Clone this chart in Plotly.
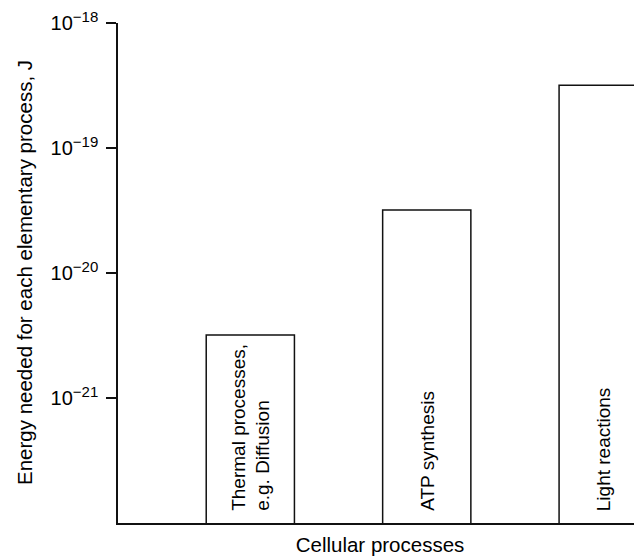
import plotly.graph_objects as go

categories = ["Thermal processes", "ATP synthesis", "Light reactions"]
bar_labels = ["Thermal processes,<br>e.g. Diffusion", "ATP synthesis", "Light reactions"]
energies_J = [3.2e-21, 3.2e-20, 3.2e-19]
tick_values = [1e-21, 1e-20, 1e-19, 1e-18]
tick_exponents = ["\u221221", "\u221220", "\u221219", "\u221218"]
y_title = "Energy needed for each elementary process, J"
x_title = "Cellular processes"

tick_labels = ["10<sup><span style='font-size:15px'>%s</span></sup>" % e for e in tick_exponents]

FONT = "Liberation Sans, Arial, sans-serif"
LINE = "#111111"

# page body has an 8px margin; figure sized to fill the remaining window
W, H = 634, 548
ML, MR, MT, MB = 110, 0, 12, 33
plot_w = W - ML - MR

fig = go.Figure()
fig.add_trace(go.Bar(
    x=categories,
    y=energies_J,
    width=0.5,
    marker=dict(color="white", line=dict(color=LINE, width=1.5)),
    showlegend=False,
    hoverinfo="x+y",
))

for cat, lab in zip(categories, bar_labels):
    fig.add_annotation(
        x=cat, y=-21.92, xref="x", yref="y",
        text=lab, textangle=-90, showarrow=False,
        xanchor="center", yanchor="bottom", align="left",
        font=dict(family=FONT, size=19, color="black"),
    )

# y-axis title as rotated annotation for precise placement
fig.add_annotation(
    x=(16 - ML) / plot_w, y=0.5, xref="paper", yref="paper",
    text=y_title, textangle=-90, showarrow=False,
    xanchor="center", yanchor="middle",
    font=dict(family=FONT, size=20.5, color="black"),
)

fig.update_layout(
    width=W, height=H,
    margin=dict(l=ML, r=MR, t=MT, b=MB),
    paper_bgcolor="white", plot_bgcolor="white",
    font=dict(family=FONT, size=19, color="black"),
    xaxis=dict(
        type="category",
        range=[-0.75, 2.22],
        showticklabels=False,
        ticks="",
        showgrid=False,
        zeroline=False,
        showline=True, linecolor=LINE, linewidth=1.5,
        title=dict(text=x_title, standoff=19,
                   font=dict(family=FONT, size=20.5)),
    ),
    yaxis=dict(
        type="log",
        range=[-22, -17.997],
        tickvals=tick_values,
        ticktext=tick_labels,
        ticks="outside", ticklen=10, tickwidth=1.5, tickcolor=LINE,
        ticklabelstandoff=4,
        ticklabeloverflow="allow",
        showgrid=False,
        zeroline=False,
        showline=True, linecolor=LINE, linewidth=1.5,
        tickfont=dict(family=FONT, size=20),
    ),
)

fig.write_html("out.html")
